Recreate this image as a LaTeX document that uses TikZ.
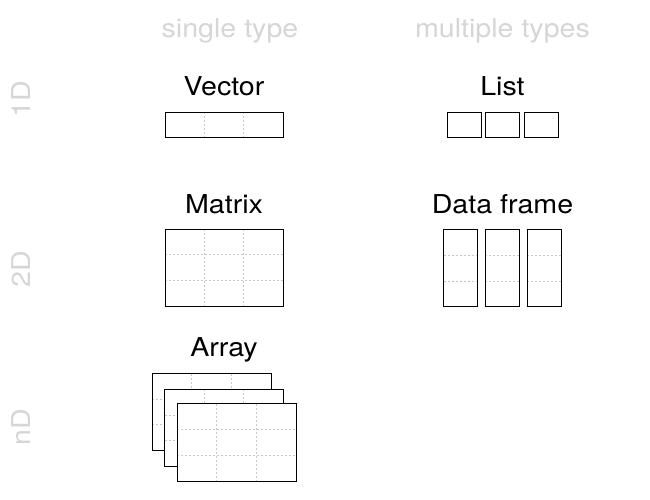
\documentclass[tikz,border=0pt]{standalone}
\usepackage{fontspec}
\setmainfont{TeX Gyre Heros}[FakeStretch=1.1]
\definecolor{headgray}{RGB}{214,214,214}
\definecolor{dashgray}{RGB}{200,200,200}
\newcommand\mkvdiv[4]{\foreach \f in {1/3,2/3} \draw[griddash] ({#1+\f*(#3-#1)},#2) -- ({#1+\f*(#3-#1)},#4);}
\newcommand\mkhdiv[4]{\foreach \f in {1/3,2/3} \draw[griddash] (#1,{#2+\f*(#4-#2)}) -- (#3,{#2+\f*(#4-#2)});}
\newcommand\mksheet[4]{%
  \fill[white] (#1,#2) rectangle (#3,#4);
  \mkvdiv{#1}{#2}{#3}{#4}\mkhdiv{#1}{#2}{#3}{#4}%
  \draw[boxline] (#1,#2) rectangle (#3,#4);}
\tikzset{
  boxline/.style={draw=black, line width=0.9pt},
  griddash/.style={draw=dashgray, line width=0.6pt, dash pattern=on 2pt off 2pt},
  title/.style={font=\fontsize{26}{30}\selectfont, text=black, anchor=base, inner sep=0pt},
  header/.style={font=\fontsize{26}{30}\selectfont, text=headgray, anchor=base, inner sep=0pt},
  rowlab/.style={font=\fontsize{26}{30}\selectfont, text=headgray, rotate=90, anchor=center, inner sep=0pt}
}
\begin{document}
\begin{tikzpicture}[x=1pt, y=-1pt]
\useasboundingbox[fill=white] (0,0) rectangle (650,500);
% headers
\node[header] (hsingle) at (230,37.3) {single type};
\node[header] (hmulti) at (502.5,37.3) {multiple types};
% row labels
\node[rowlab] (r1) at (21,99.5) {1D};
\node[rowlab] (r2) at (21,269) {2D};
\node[rowlab] (rn) at (21,427.5) {nD};
% titles
\node[title] (tvec) at (224,96) {Vector};
\node[title] (tlist) at (502.5,96) {List};
\node[title] (tmat) at (224,213.3) {Matrix};
\node[title] (tdf) at (502.5,213.3) {Data frame};
\node[title] (tarr) at (224,356.7) {Array};
% vector
\mkvdiv{165}{112}{283}{137}
\draw[boxline] (165,112) rectangle (283,137);
% list
\draw[boxline] (447,112) rectangle (481,137);
\draw[boxline] (485,112) rectangle (519,137);
\draw[boxline] (524,112) rectangle (558,137);
% matrix
\mkvdiv{165}{229}{283}{306}\mkhdiv{165}{229}{283}{306}
\draw[boxline] (165,229) rectangle (283,306);
% data frame
\mkhdiv{443.5}{229.5}{477.5}{306.5}
\draw[boxline] (443.5,229.5) rectangle (477.5,306.5);
\mkhdiv{485}{229.5}{519}{306.5}
\draw[boxline] (485,229.5) rectangle (519,306.5);
\mkhdiv{527}{229.5}{561.5}{306.5}
\draw[boxline] (527,229.5) rectangle (561.5,306.5);
% array
\mksheet{152}{373.5}{271}{450}
\mksheet{164.5}{389}{283}{466.5}
\mksheet{177}{403.5}{296}{481}
\end{tikzpicture}
\end{document}
